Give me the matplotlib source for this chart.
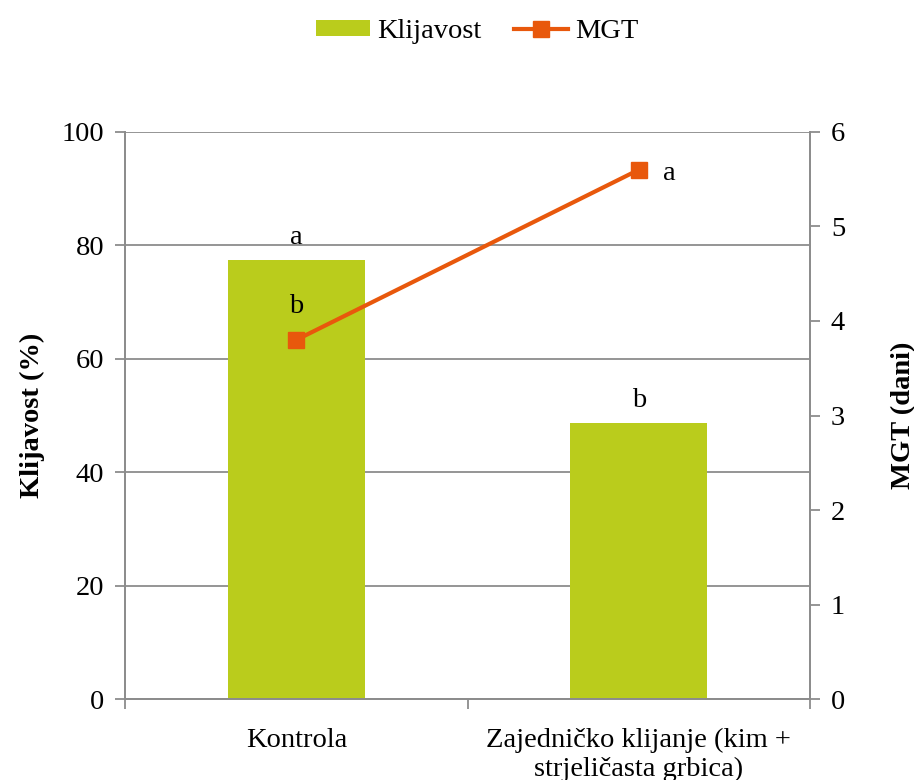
import matplotlib.pyplot as plt
from matplotlib.lines import Line2D
from matplotlib.patches import Patch

plt.rcParams["font.family"] = ["Liberation Serif", "DejaVu Serif"]

categories = ["Kontrola", "Zajedničko klijanje (kim +\nstrjeličasta grbica)"]
klijavost = [77.4, 48.7]
mgt = [3.8, 5.6]
klijavost_letters = ["a", "b"]
mgt_letters = ["b", "a"]

bar_color = "#BACC1C"
line_color = "#E8580C"
grid_color = "#8C8C8C"
fs = 20.5

fig = plt.figure(figsize=(9.14, 7.8), dpi=100)
ax = fig.add_axes([0.1368, 0.1038, 0.8862 - 0.1368, 0.8308 - 0.1038])
ax2 = ax.twinx()

x = [1, 2]
ax.bar(x, klijavost, width=0.4, color=bar_color, zorder=2)
ax.set_xlim(0.5, 2.5)
ax.set_ylim(0, 100)
ax.set_yticks(range(0, 101, 20))
ax.yaxis.grid(True, color=grid_color, linewidth=1.3, zorder=0)
ax.set_axisbelow(True)
ax.set_xticks(x)
ax.set_xticklabels(categories, fontsize=fs, linespacing=1.2)
ax.set_xticks([0.5, 1.5, 2.5], minor=True)
ax.tick_params(axis="x", which="major", length=0, pad=21)
ax.tick_params(axis="x", which="minor", length=7, width=1.3, color=grid_color, direction="out")
ax.tick_params(axis="y", labelsize=fs, length=7, width=1.3, color=grid_color, pad=8)
ax.set_ylabel("Klijavost (%)", fontsize=fs, fontweight="bold", labelpad=12)

for xi, val, letter in zip(x, klijavost, klijavost_letters):
    ax.text(xi, val + 1.8, letter, ha="center", va="bottom", fontsize=fs)

ax2.plot(x, mgt, color=line_color, linewidth=3, marker="s", markersize=11, zorder=3)
ax2.set_ylim(0, 6)
ax2.set_yticks(range(0, 7))
ax2.tick_params(axis="y", labelsize=fs, length=7, width=1.3, color=grid_color, pad=8)
ax2.set_ylabel("MGT (dani)", fontsize=fs, fontweight="bold", labelpad=33)

ax2.text(x[0], mgt[0] + 0.22, mgt_letters[0], ha="center", va="bottom", fontsize=fs)
ax2.text(x[1] + 0.07, mgt[1] - 0.04, mgt_letters[1], ha="left", va="center", fontsize=fs)

for a in (ax, ax2):
    a.spines["top"].set_visible(False)
    for s in ("left", "right", "bottom"):
        a.spines[s].set_color(grid_color)
        a.spines[s].set_linewidth(1.3)

handles = [
    Patch(facecolor=bar_color, edgecolor="none"),
    Line2D([], [], color=line_color, linewidth=3, marker="s", markersize=11),
]
fig.legend(handles, ["Klijavost", "MGT"], loc="center", bbox_to_anchor=(0.522, 0.959),
           ncol=2, frameon=False, fontsize=fs, handlelength=1.9, handleheight=0.5,
           handletextpad=0.25, columnspacing=1.15)

fig.savefig("out.png", dpi=100)
